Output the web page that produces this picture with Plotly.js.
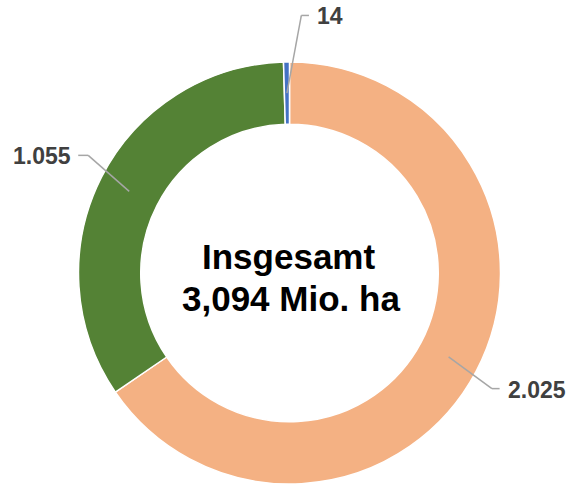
<!DOCTYPE html>
<html>
<head>
<meta charset="utf-8">
<script src="https://cdn.plot.ly/plotly-3.0.1.min.js"></script>
<style>html,body{margin:0;padding:0;background:#fff;}#chart{width:571px;height:485px;}</style>
</head>
<body>
<div id="chart"></div>
<script>
// Data
const categories = ['Kategorie A', 'Kategorie B', 'Kategorie C'];
const values = [2025, 1055, 14];
const valueLabels = ['2.025', '1.055', '14'];
const colors = ['#F4B183', '#548235', '#4472C4'];
const centerLines = ['Insgesamt', '3,094 Mio. ha'];

// Geometry (pixels)
const W = 571, H = 485;
const cx = 289.5, cy = 273, R = 211, hole = 0.705;
const rMid = R * (1 + hole) / 2;
// leader line offsets from anchor: [elbowDx, elbowDy, endDx, labelSide]
const leader = [
  {ex: 43.3, ey: 31.7, hx: 51, side: 'left'},
  {ex: -41, ey: -36, hx: -51, side: 'right'},
  {ex: 14.4, ey: -77.7, hx: 22, side: 'left'}
];

const px = x => x / W;
const py = y => 1 - y / H;

const total = values.reduce((a, b) => a + b, 0);
let cum = 0;
const shapes = [];
const annotations = [];
values.forEach((v, i) => {
  const mid = (cum + v / 2) / total * 2 * Math.PI; // clockwise from 12 o'clock
  cum += v;
  const ax = cx + rMid * Math.sin(mid);
  const ay = cy - rMid * Math.cos(mid);
  const L = leader[i];
  const bx = ax + L.ex, by = ay + L.ey;
  const hx = ax + L.hx;
  const lineStyle = {color: '#A6A6A6', width: 1.5};
  shapes.push({type: 'line', xref: 'paper', yref: 'paper', x0: px(ax), y0: py(ay), x1: px(bx), y1: py(by), line: lineStyle});
  shapes.push({type: 'line', xref: 'paper', yref: 'paper', x0: px(bx), y0: py(by), x1: px(hx), y1: py(by), line: lineStyle});
  const tx = L.side === 'left' ? hx + 6 : hx - 5;
  annotations.push({
    xref: 'paper', yref: 'paper', x: px(tx), y: py(by + 1),
    xanchor: L.side, yanchor: 'middle', showarrow: false,
    text: '<b>' + valueLabels[i] + '</b>',
    font: {family: 'Liberation Sans, Arial, sans-serif', size: 23, color: '#404040'}
  });
});

annotations.push({
  xref: 'paper', yref: 'paper', x: px(cx - 1), y: py(256.5), xanchor: 'center', yanchor: 'middle', showarrow: false,
  text: '<b>' + centerLines[0] + '</b>', font: {family: 'Liberation Sans, Arial, sans-serif', size: 35, color: '#000000'}
});
annotations.push({
  xref: 'paper', yref: 'paper', x: px(cx + 1), y: py(298.5), xanchor: 'center', yanchor: 'middle', showarrow: false,
  text: '<b>' + centerLines[1] + '</b>', font: {family: 'Liberation Sans, Arial, sans-serif', size: 35, color: '#000000'}
});

const trace = {
  type: 'pie',
  labels: categories,
  values: values,
  hole: hole,
  sort: false,
  direction: 'clockwise',
  rotation: 0,
  textinfo: 'none',
  hoverinfo: 'label+value',
  marker: {colors: colors, line: {color: '#FFFFFF', width: 1.5}},
  domain: {x: [px(cx - R), px(cx + R)], y: [py(cy + R), py(cy - R)]},
  showlegend: false
};

const layout = {
  width: W, height: H,
  margin: {l: 0, r: 0, t: 0, b: 0},
  paper_bgcolor: '#FFFFFF',
  showlegend: false,
  shapes: shapes,
  annotations: annotations
};

Plotly.newPlot('chart', [trace], layout, {displayModeBar: false, staticPlot: true});
</script>
</body>
</html>
